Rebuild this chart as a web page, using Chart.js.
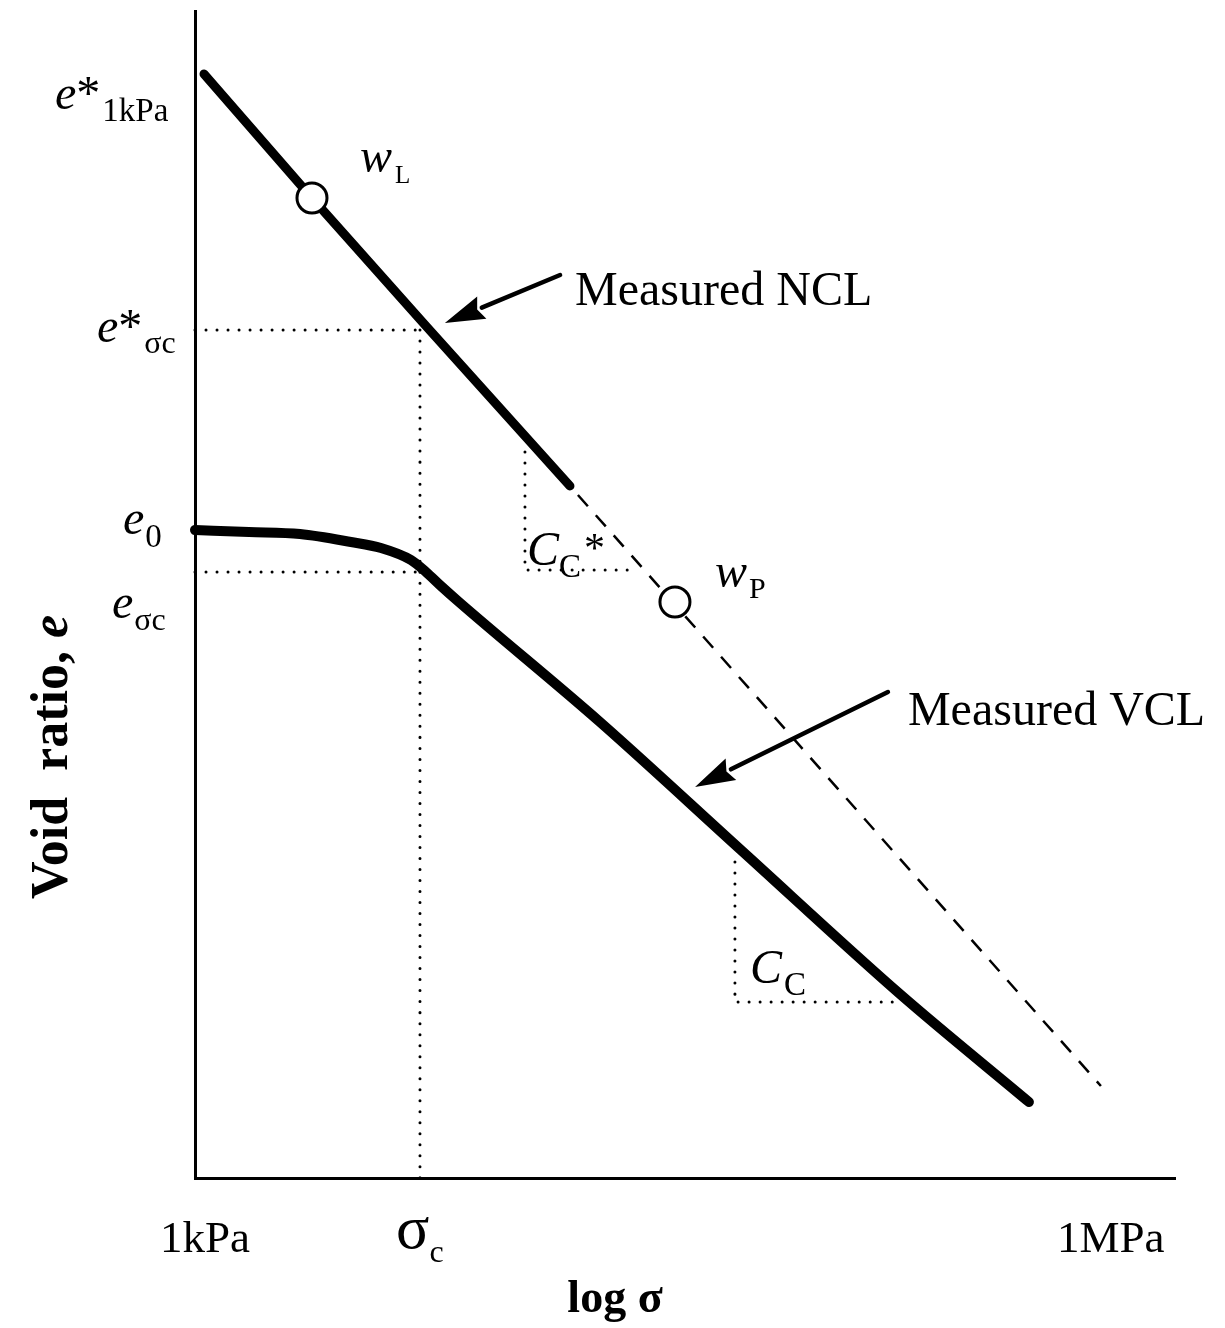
<!DOCTYPE html>
<html>
<head>
<meta charset="utf-8">
<script src="https://cdn.jsdelivr.net/npm/chart.js@4.4.0/dist/chart.umd.min.js"></script>
<style>
  html, body { margin: 0; padding: 0; background: #fff; }
  canvas { display: block; }
</style>
</head>
<body>
<canvas id="grafico" width="1225" height="1328"></canvas>
<script>
// asse x: log σ in decadi sopra 1 kPa (1 kPa = 0, 1 MPa = 3)
const xTickLabels = ['1kPa', '1MPa'];
const xTickValues = [0, 3];

// NCL misurata (continua) e suo prolungamento (tratteggiato)
const nclLogS = [0.03, 0.39, 0.77, 1.25];
const nclE = [2.76, 2.45, 2.13, 1.73];
const nclExtLogS = [1.25, 3.02];
const nclExtE = [1.73, 0.23];

// limiti di liquidità e plasticità sulla NCL
const limitLogS = [0.39, 1.60];
const limitE = [2.45, 1.44];

// VCL misurata
const vclLogS = [0, 0.18, 0.35, 0.52, 0.62, 0.72, 0.77, 0.82, 0.88, 1.35, 1.82, 2.35, 2.78];
const vclE = [1.62, 1.615, 1.61, 1.59, 1.575, 1.545, 1.515, 1.48, 1.44, 1.14, 0.82, 0.46, 0.19];

// tensione di snervamento e indici dei vuoti corrispondenti
const sigmaC = 0.75;
const eStarSigmaC = 2.12;
const eSigmaC = 1.515;

// triangoli delle pendenze: [xSinistra, xDestra, eAlto, eBasso]
const ccStarTri = [1.10, 1.46, 1.815, 1.52];
const ccTri = [1.80, 2.35, 0.79, 0.44];

// frecce: [coda, punta] in (log σ, e)
const arrowNcl = [[1.217, 2.2575], [0.833, 2.1375]];
const arrowVcl = [[2.31, 1.215], [1.667, 0.9775]];

const serif = '"Liberation Serif", "Times New Roman", serif';
const punti = (xs, ys) => xs.map((v, i) => ({ x: v, y: ys[i] }));

const puntinato = {
  borderColor: '#000',
  borderWidth: 3,
  borderDash: [0.01, 11],
  borderCapStyle: 'round',
  pointRadius: 0,
  showLine: true,
  clip: false
};

function scrivi(ctx, x, y, parti) {
  ctx.textAlign = 'left';
  ctx.textBaseline = 'alphabetic';
  let cx = x;
  parti.forEach(([testo, font, dy = 0, dx = 0]) => {
    ctx.font = font;
    cx += dx;
    ctx.fillText(testo, cx, y + dy);
    cx += ctx.measureText(testo).width;
  });
}

function freccia(ctx, x1, y1, x2, y2) {
  const ang = Math.atan2(y2 - y1, x2 - x1);
  const lung = 40, mezza = 12;
  const bx = x2 - lung * Math.cos(ang), by = y2 - lung * Math.sin(ang);
  ctx.lineWidth = 4.5;
  ctx.beginPath();
  ctx.moveTo(x1, y1);
  ctx.lineTo(bx, by);
  ctx.stroke();
  ctx.beginPath();
  ctx.moveTo(x2, y2);
  ctx.lineTo(bx + mezza * Math.sin(ang), by - mezza * Math.cos(ang));
  ctx.lineTo(bx + 5 * Math.cos(ang), by + 5 * Math.sin(ang));
  ctx.lineTo(bx - mezza * Math.sin(ang), by + mezza * Math.cos(ang));
  ctx.closePath();
  ctx.fill();
}

const etichette = {
  id: 'etichette',
  afterDatasetsDraw(chart) {
    const { ctx, chartArea, scales: { x, y } } = chart;
    const X = v => x.getPixelForValue(v);
    const Y = v => y.getPixelForValue(v);
    const it = s => `italic ${s}px ${serif}`;
    const rm = s => `${s}px ${serif}`;
    ctx.save();
    ctx.fillStyle = '#000';
    ctx.strokeStyle = '#000';

    // l'asse y sale qualche pixel sopra l'area del grafico
    const xa = Math.round(chartArea.left - 1.5) + 1.5;
    ctx.lineWidth = 3;
    ctx.lineCap = 'butt';
    ctx.beginPath();
    ctx.moveTo(xa, chartArea.top);
    ctx.lineTo(xa, chartArea.top - 8);
    ctx.stroke();

    ctx.lineCap = 'round';
    freccia(ctx, X(arrowNcl[0][0]), Y(arrowNcl[0][1]), X(arrowNcl[1][0]), Y(arrowNcl[1][1]));
    freccia(ctx, X(arrowVcl[0][0]), Y(arrowVcl[0][1]), X(arrowVcl[1][0]), Y(arrowVcl[1][1]));

    scrivi(ctx, X(arrowNcl[0][0]) + 15, Y(arrowNcl[0][1]) + 30, [['Measured NCL', rm(48)]]);
    scrivi(ctx, X(arrowVcl[0][0]) + 20, Y(arrowVcl[0][1]) + 33, [['Measured VCL', rm(48)]]);

    // etichette sull'asse delle ordinate
    const x0 = X(0);
    scrivi(ctx, x0 - 140, Y(nclE[0]) + 35, [['e', it(48)], ['*', rm(48)], ['1kPa', rm(33), 12, 2]]);
    scrivi(ctx, x0 - 98, Y(eStarSigmaC) + 12, [['e', it(48)], ['*', rm(48)], ['σc', rm(32), 11, 2]]);
    scrivi(ctx, x0 - 72, Y(vclE[0]) + 4, [['e', it(48)], ['0', rm(33), 13, 1]]);
    scrivi(ctx, x0 - 83, Y(eSigmaC) + 46, [['e', it(48)], ['σc', rm(32), 12, 1]]);

    // limiti di Atterberg
    scrivi(ctx, X(limitLogS[0]) + 48, Y(limitE[0]) - 26, [['w', it(48)], ['L', rm(25), 11, 3]]);
    scrivi(ctx, X(limitLogS[1]) + 40, Y(limitE[1]) - 15, [['w', it(48)], ['P', rm(30), 11, 2]]);

    // indici di compressione
    scrivi(ctx, X(ccStarTri[0]) + 2, Y(ccStarTri[3]) - 5, [['C', it(48)], ['C', rm(33), 12, 0], ['*', rm(42), -3, 3]]);
    scrivi(ctx, X(ccTri[0]) + 15, Y(ccTri[3]) - 19, [['C', it(48)], ['C', rm(33), 12, 2]]);

    // asse delle ascisse
    const yb = chartArea.bottom;
    scrivi(ctx, X(xTickValues[0]) - 35, yb + 74, [[xTickLabels[0], rm(45)]]);
    scrivi(ctx, X(xTickValues[1]) - 38, yb + 74, [[xTickLabels[1], rm(45)]]);
    scrivi(ctx, X(sigmaC) - 24, yb + 70, [['σ', rm(62)], ['c', rm(32), 14, 0]]);

    ctx.font = `bold 46px ${serif}`;
    ctx.textAlign = 'center';
    ctx.fillText('log σ', (chartArea.left + chartArea.right) / 2 - 70, yb + 134);

    // titolo asse y, ruotato
    ctx.translate(chartArea.left - 128, 757);
    ctx.rotate(-Math.PI / 2);
    ctx.font = `bold 52px ${serif}`;
    const t1 = 'Void  ratio, ';
    const w1 = ctx.measureText(t1).width;
    ctx.font = `bold italic 52px ${serif}`;
    const w2 = ctx.measureText('e').width;
    let sx = -(w1 + w2) / 2;
    ctx.textAlign = 'left';
    ctx.font = `bold 52px ${serif}`;
    ctx.fillText(t1, sx, 0);
    ctx.font = `bold italic 52px ${serif}`;
    ctx.fillText('e', sx + w1, 0);
    ctx.restore();
  }
};

new Chart(document.getElementById('grafico'), {
  type: 'scatter',
  data: {
    datasets: [
      {
        data: punti(limitLogS, limitE),
        pointRadius: 15,
        pointBackgroundColor: '#fff',
        pointBorderColor: '#000',
        pointBorderWidth: 3,
        showLine: false
      },
      {
        data: punti(nclLogS, nclE),
        borderColor: '#000',
        borderWidth: 9,
        borderCapStyle: 'round',
        borderJoinStyle: 'round',
        pointRadius: 0,
        showLine: true,
        clip: false
      },
      {
        data: punti(nclExtLogS, nclExtE),
        borderColor: '#000',
        borderWidth: 2.5,
        borderDash: [15, 12],
        borderDashOffset: 15,
        pointRadius: 0,
        showLine: true
      },
      {
        data: punti(vclLogS, vclE),
        borderColor: '#000',
        borderWidth: 10,
        borderCapStyle: 'round',
        borderJoinStyle: 'round',
        cubicInterpolationMode: 'monotone',
        pointRadius: 0,
        showLine: true,
        clip: false
      },
      { ...puntinato, data: [{ x: 0, y: eStarSigmaC }, { x: sigmaC + 0.02, y: eStarSigmaC }] },
      { ...puntinato, data: [{ x: sigmaC, y: eStarSigmaC }, { x: sigmaC, y: 0 }] },
      { ...puntinato, data: [{ x: 0, y: eSigmaC }, { x: sigmaC - 0.01, y: eSigmaC }] },
      { ...puntinato, data: [{ x: ccStarTri[0], y: ccStarTri[2] }, { x: ccStarTri[0], y: ccStarTri[3] }, { x: ccStarTri[1], y: ccStarTri[3] }] },
      { ...puntinato, data: [{ x: ccTri[0], y: ccTri[2] }, { x: ccTri[0], y: ccTri[3] }, { x: ccTri[1], y: ccTri[3] }] }
    ]
  },
  options: {
    responsive: false,
    animation: false,
    devicePixelRatio: 1,
    layout: { padding: { left: 187, top: 3, right: 50, bottom: 142 } },
    plugins: { legend: { display: false }, tooltip: { enabled: false } },
    scales: {
      x: {
        type: 'linear', min: 0, max: 3.267,
        grid: { display: false },
        ticks: { display: false },
        border: { display: true, color: '#000', width: 3 }
      },
      y: {
        type: 'linear', min: 0, max: 2.9,
        grid: { display: false },
        ticks: { display: false },
        border: { display: true, color: '#000', width: 3 }
      }
    }
  },
  plugins: [etichette]
});
</script>
</body>
</html>
